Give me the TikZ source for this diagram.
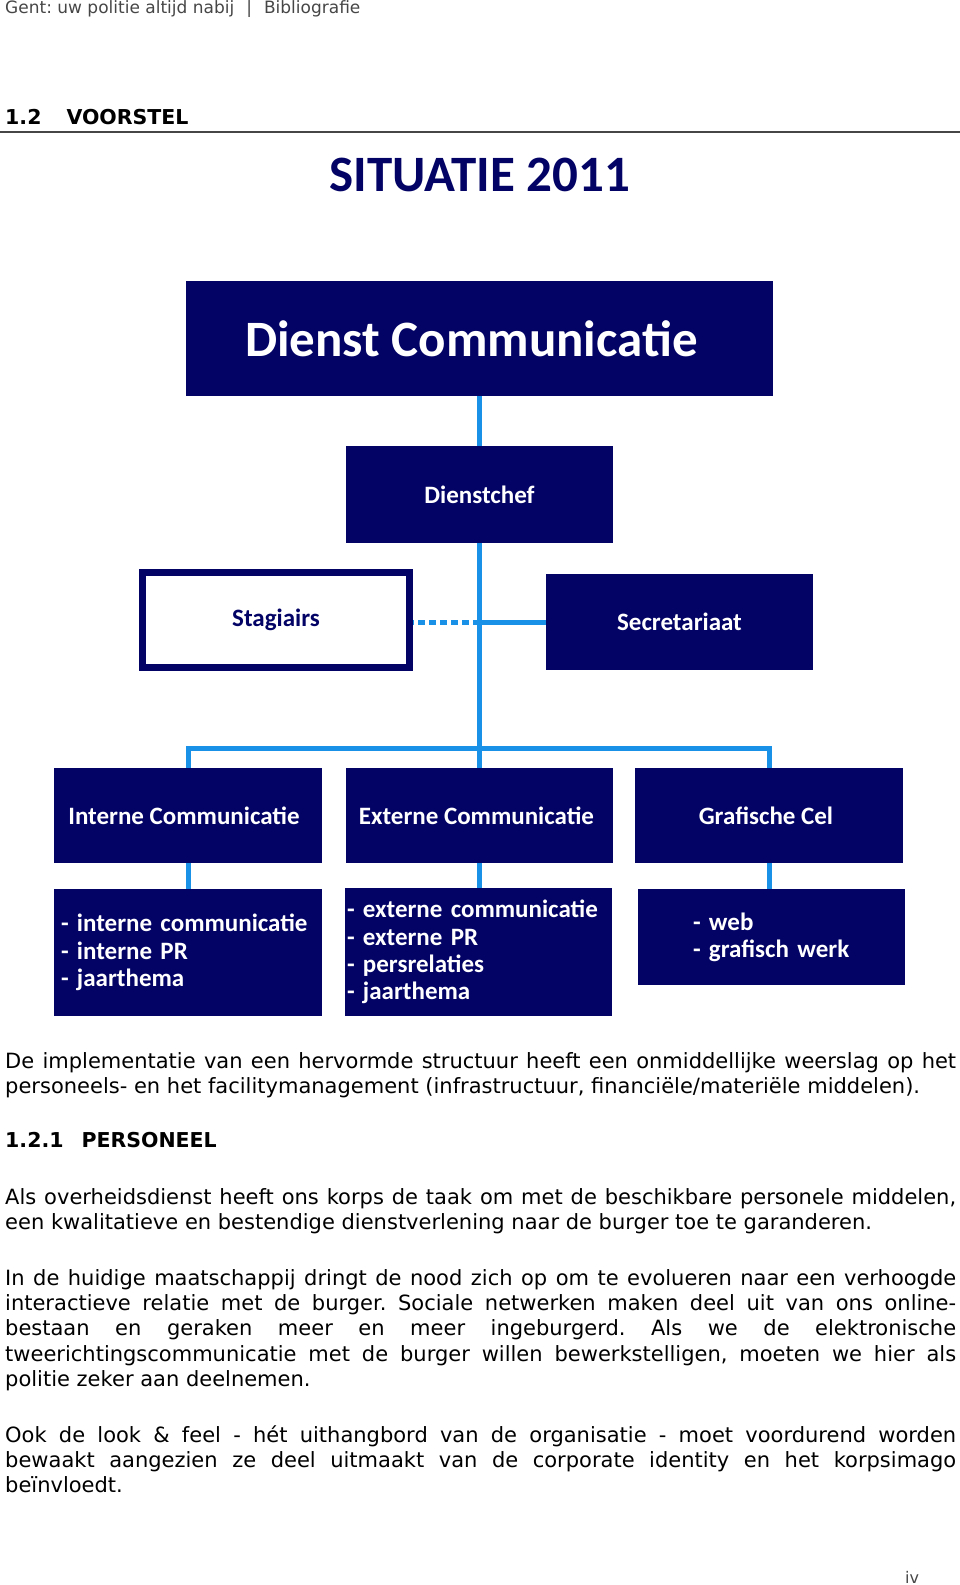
\documentclass[tikz,border=0pt]{standalone}
\usepackage{fontspec}
\setmainfont{DejaVu Sans}
\newfontfamily\chartfont{Carlito}
\definecolor{navy}{RGB}{3,3,102}
\definecolor{lineblue}{RGB}{25,145,230}
\definecolor{headgray}{RGB}{70,70,70}

\begin{document}
\frenchspacing
\begin{tikzpicture}[x=1pt, y=-1pt,
block/.style = {fill=navy, rectangle, text=white, inner sep=0pt, minimum width=267pt,
  font=\chartfont\bfseries\fontsize{25}{27.3}\selectfont},
list/.style = {block, align=left},
link/.style = {draw=lineblue, line width=5pt},
para/.style = {anchor=north west, inner sep=0pt, text width=951pt, align=justify,
  font=\fontsize{21}{25.3}\selectfont},
title/.style = {anchor=west, inner sep=0pt, font=\bfseries\fontsize{20.5}{24}\selectfont}
]
\useasboundingbox (0,0) rectangle (960,1585);

% page header
\node [anchor=west, inner sep=0pt, text=headgray, font=\fontsize{17}{20}\selectfont] (header) at (5,9)
  {Gent: uw politie altijd nabij\hspace{12pt}|\hspace{12pt}Bibliografie};
\node [title] (voorstel) at (5,117) {1.2\hspace{25pt}VOORSTEL};
\draw [headgray, line width=2pt] (0,131.5) -- (960,131.5);

% chart
\node [text=navy, inner sep=0pt, font=\chartfont\bfseries\fontsize{51}{60}\selectfont] (situatie) at (480,175) {SITUATIE 2011};

\node [block, minimum width=587pt, minimum height=115pt, font=\chartfont\bfseries\fontsize{51}{60}\selectfont] (dienst) at (479.5,338.5) {Dienst Communicatie\hspace*{16pt}};
\node [block, minimum height=97pt] (chef) at (479.5,494.5) {Dienstchef};
\node [block, fill=white, text=navy, draw=navy, line width=7pt, minimum width=267pt, minimum height=95pt] (stag) at (276,620) {Stagiairs};
\node [block, minimum height=96pt] (secr) at (679.5,622) {Secretariaat};

\node [block, minimum width=268pt, minimum height=95pt] (intern) at (188,815.5) {Interne Communicatie\hspace*{8pt}};
\node [block, minimum height=95pt] (extern) at (479.5,815.5) {Externe Communicatie\hspace*{6pt}};
\node [block, minimum width=268pt, minimum height=95pt] (graf) at (769,815.5) {Grafische Cel\hspace*{6pt}};

\node [list, inner xsep=7pt, text width=254pt, minimum height=127pt] (intlist) at (188,952.5)
  {- interne communicatie\\- interne PR\\- jaarthema};
\node [list, inner xsep=2pt, text width=263pt, minimum height=128pt] (extlist) at (478.5,952)
  {- externe communicatie\\- externe PR\\- persrelaties\\- jaarthema};
\node [list, inner xsep=55pt, text width=157pt, minimum height=96pt] (graflist) at (771.5,937)
  {- web\\- grafisch werk};

\coordinate (hub) at (chef.south |- secr.west);
\coordinate (bar) at (479.5,748);
\draw [link] (dienst) -- (chef);
\draw [link] (chef) -- (extern);
\draw [link] (hub) -- (secr);
\draw [link, dash pattern=on 7pt off 4pt] (hub) -- (hub -| stag.east);
\draw [link] (intern) |- (bar) -| (graf);
\draw [link] (intern) -- (intlist);
\draw [link] (extern.south) -- (extern.south |- extlist.north);
\draw [link] (graf.south) -- (graf.south |- graflist.north);

% text below the chart
\node [para] (p1) at (5,1052) {De implementatie van een hervormde structuur heeft een onmiddellijke weerslag op het\linebreak
  personeels- en het facilitymanagement (infrastructuur, financiële/materiële middelen).};
\node [title] (personeel) at (5,1140) {1.2.1\hspace{18pt}PERSONEEL};
\node [para] (p2) at (5,1188) {Als overheidsdienst heeft ons korps de taak om met de beschikbare personele middelen,\linebreak
  een kwalitatieve en bestendige dienstverlening naar de burger toe te garanderen.};
\node [para] (p3) at (5,1269) {In de huidige maatschappij dringt de nood zich op om te evolueren naar een verhoogde\linebreak
  interactieve relatie met de burger. Sociale netwerken maken deel uit van ons online-\linebreak
  bestaan en geraken meer en meer ingeburgerd. Als we de elektronische\linebreak
  tweerichtingscommunicatie met de burger willen bewerkstelligen, moeten we hier als\linebreak
  politie zeker aan deelnemen.};
\node [para] (p4) at (5,1425) {Ook de look \& feel - hét uithangbord van de organisatie - moet voordurend worden\linebreak
  bewaakt aangezien ze deel uitmaakt van de corporate identity en het korpsimago\linebreak
  beïnvloedt.};

\node [anchor=west, inner sep=0pt, text=headgray, font=\fontsize{16}{18}\selectfont] (page) at (905,1577) {iv};
\end{tikzpicture}
\end{document}
